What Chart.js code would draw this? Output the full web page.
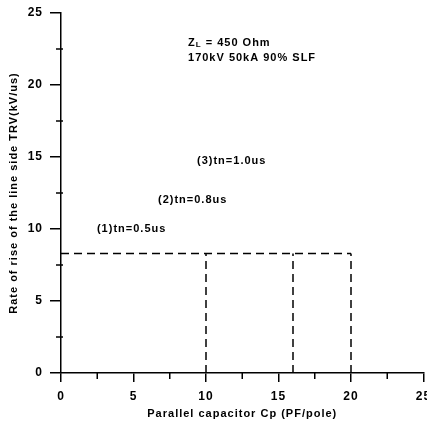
<!DOCTYPE html>
<html>
<head>
<meta charset="utf-8">
<script src="https://cdn.jsdelivr.net/npm/chart.js@4.4.0/dist/chart.umd.min.js"></script>
<style>
  html, body { margin: 0; padding: 0; background: #fff; overflow: hidden; }
  #wrap { width: 427px; height: 424px; }
</style>
</head>
<body>
<div id="wrap"><canvas id="myChart" width="427" height="424"></canvas></div>
<script>
// capacitances where each tn curve reaches the limit
const capValues = [10, 16, 20];
const riseLimit = 8.3;
const tnLabels = ['(1)tn=0.5us', '(2)tn=0.8us', '(3)tn=1.0us'];
const xTicks = [0, 5, 10, 15, 20, 25];
const yTicks = [0, 5, 10, 15, 20, 25];

// text notes placed in data coordinates
const notes = [
    { text: tnLabels[0], x: 2.48, y: 10.0 },
    { text: tnLabels[1], x: 6.69, y: 12.0 },
    { text: tnLabels[2], x: 9.38, y: 14.7 }
];

const FONT = 'Liberation Sans, Arial, Helvetica, sans-serif';

const datasets = [];
datasets.push({
    data: [{ x: 0, y: riseLimit }, { x: capValues[capValues.length - 1], y: riseLimit }]
});
capValues.forEach(c => {
    datasets.push({ data: [{ x: c, y: 0 }, { x: c, y: riseLimit }] });
});
datasets.forEach(d => {
    d.borderColor = '#000';
    d.borderWidth = 1.5;
    d.borderDash = [8, 5];
    d.pointRadius = 0;
    d.fill = false;
});

const spacing = {
    id: 'spacing',
    beforeDraw(chart) {
        chart.ctx.letterSpacing = '1px';
    }
};

const extras = {
    id: 'extras',
    afterDraw(chart) {
        const ctx = chart.ctx;
        const xs = chart.scales.x;
        const ys = chart.scales.y;
        const area = chart.chartArea;
        ctx.save();
        ctx.strokeStyle = '#000';
        ctx.lineWidth = 1.5;
        // minor ticks
        for (let v = 2.5; v < 25; v += 5) {
            const px = xs.getPixelForValue(v);
            ctx.beginPath();
            ctx.moveTo(px, area.bottom);
            ctx.lineTo(px, area.bottom + 6);
            ctx.stroke();
            const py = ys.getPixelForValue(v);
            ctx.beginPath();
            ctx.moveTo(area.left - 5, py);
            ctx.lineTo(area.left + 2, py);
            ctx.stroke();
        }
        // notes
        ctx.letterSpacing = '1px';
        ctx.fillStyle = '#000';
        ctx.textBaseline = 'middle';
        ctx.textAlign = 'left';
        ctx.font = 'bold 11px ' + FONT;
        notes.forEach(n => {
            ctx.fillText(n.text, xs.getPixelForValue(n.x), ys.getPixelForValue(n.y));
        });
        // ZL line with subscript
        let x0 = xs.getPixelForValue(8.76);
        let y0 = ys.getPixelForValue(22.95);
        ctx.fillText('Z', x0, y0);
        x0 += ctx.measureText('Z').width;
        ctx.font = 'bold 8px ' + FONT;
        ctx.fillText('L', x0, y0 + 2);
        x0 += ctx.measureText('L').width;
        ctx.font = 'bold 11px ' + FONT;
        ctx.fillText(' = 450 Ohm', x0, y0);
        ctx.fillText('170kV 50kA 90% SLF', xs.getPixelForValue(8.76), ys.getPixelForValue(21.85));
        ctx.restore();
    }
};

new Chart(document.getElementById('myChart').getContext('2d'), {
    type: 'line',
    data: { datasets: datasets },
    plugins: [spacing, extras],
    options: {
        responsive: false,
        animation: false,
        events: [],
        layout: { padding: { top: 13, right: 3.5, left: 0, bottom: 0 } },
        plugins: {
            legend: { display: false },
            tooltip: { enabled: false }
        },
        scales: {
            x: {
                type: 'linear',
                min: 0,
                max: 25,
                afterBuildTicks(scale) {
                    scale.ticks = xTicks.map(v => ({ value: v }));
                },
                afterFit(scale) {
                    scale.height = 51;
                    scale.paddingLeft = 0;
                    scale.paddingRight = 0;
                },
                ticks: {
                    color: '#000',
                    font: { family: FONT, size: 12, weight: 'bold' },
                    padding: 7,
                    maxRotation: 0
                },
                grid: {
                    drawOnChartArea: false,
                    drawTicks: true,
                    tickLength: 9,
                    tickColor: '#000',
                    lineWidth: 1.5
                },
                border: { display: true, color: '#000', width: 1.5 },
                title: {
                    display: true,
                    text: 'Parallel capacitor Cp (PF/pole)',
                    color: '#000',
                    font: { family: FONT, size: 11, weight: 'bold' },
                    padding: { top: 0, bottom: 3 }
                }
            },
            y: {
                type: 'linear',
                min: 0,
                max: 25,
                afterBuildTicks(scale) {
                    scale.ticks = yTicks.map(v => ({ value: v }));
                },
                afterFit(scale) {
                    scale.width = 61;
                    scale.paddingTop = 0;
                    scale.paddingBottom = 0;
                },
                ticks: {
                    color: '#000',
                    font: { family: FONT, size: 12, weight: 'bold' },
                    padding: 7
                },
                grid: {
                    drawOnChartArea: false,
                    drawTicks: true,
                    tickLength: 11,
                    tickColor: '#000',
                    lineWidth: 1.5
                },
                border: { display: true, color: '#000', width: 1.5 },
                title: {
                    display: true,
                    text: 'Rate of rise of the line side TRV(kV/us)',
                    color: '#000',
                    font: { family: FONT, size: 11, weight: 'bold' },
                    padding: { top: 7, bottom: 0 }
                }
            }
        }
    }
});
</script>
</body>
</html>
